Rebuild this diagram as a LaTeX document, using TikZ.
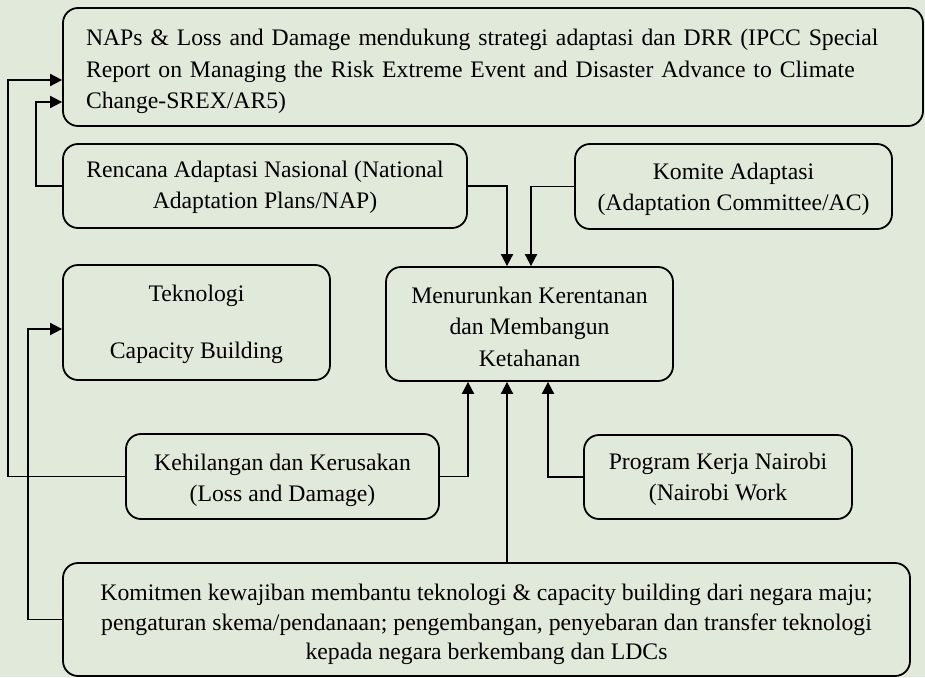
\documentclass[tikz,border=0pt]{standalone}
\usepackage{fontspec}
\setmainfont{Liberation Serif}
\usetikzlibrary{arrows.meta}
\definecolor{bg}{RGB}{225,233,219}
\newcommand\topstrut[1]{\rule{0pt}{#1pt}}
\newcommand\botstrut{\rule[-5.5pt]{0pt}{0pt}}
\begin{document}
\begin{tikzpicture}[x=1pt,y=-1pt,
  box/.style={draw, line width=1.8pt, rounded corners=15pt, align=center, inner sep=0pt,
    font=\fontsize{23.7}{31}\selectfont},
  arr/.style={line width=1.8pt, -{Triangle[length=12pt,width=12pt]}}]
\fill[bg] (0,0) rectangle (925,677);
\useasboundingbox (0,0) rectangle (925,677);

\node[box, align=left, text width=828pt, minimum width=860pt, minimum height=118pt,
      font=\fontsize{23.7}{31.5}\selectfont] (top) at (493,67)
  {\topstrut{25.5}\hspace*{7pt}\makebox[821pt][s]{NAPs \& Loss and Damage mendukung strategi adaptasi dan DRR (IPCC Special}\\
   \hspace*{7pt}\makebox[821pt][s]{Report on Managing the Risk Extreme Event and Disaster Advance to Climate}\\
   \hspace*{7pt}Change-SREX/AR5)\botstrut};

\node[box, minimum width=404pt, minimum height=84pt] (ren) at (265,186)
  {\topstrut{19.5}Rencana Adaptasi Nasional (National\\Adaptation Plans/NAP)\botstrut};
\node[box, minimum width=317pt, minimum height=85pt] (kom) at (733.5,186.5)
  {\topstrut{22.5}Komite Adaptasi\\(Adaptation Committee/AC)\botstrut};
\node[box, minimum width=267pt, minimum height=115pt] (tek) at (196.5,322.5)
  {\topstrut{19.5}Teknologi\\[26pt]Capacity Building\botstrut};
\node[box, minimum width=287pt, minimum height=114pt,
      font=\fontsize{23.7}{31.5}\selectfont] (men) at (529.5,324)
  {\topstrut{27}Menurunkan Kerentanan\\dan Membangun\\Ketahanan\botstrut};
\node[box, minimum width=313pt, minimum height=85pt] (keh) at (282.5,476.5)
  {\topstrut{23.5}Kehilangan dan Kerusakan\\(Loss and Damage)\botstrut};
\node[box, minimum width=268pt, minimum height=84pt] (prog) at (718,477)
  {\topstrut{21.5}Program Kerja Nairobi\\(Nairobi Work\botstrut};
\node[box, minimum width=847pt, minimum height=113pt,
      font=\fontsize{23.7}{29.5}\selectfont] (bot) at (486.5,619.5)
  {\topstrut{27}Komitmen kewajiban membantu teknologi \& capacity building dari negara maju;\\
   pengaturan skema/pendanaan; pengembangan, penyebaran dan transfer teknologi\\
   kepada negara berkembang dan LDCs\botstrut};

\coordinate (c1) at (8,80);
\coordinate (c2) at (36,102);
\coordinate (c3) at (28,329);

\draw[arr] (keh.west) -| (c1) -- (top.west |- c1);
\draw[arr] (ren.west) -| (c2) -- (top.west |- c2);
\draw[arr] (bot.west) -| (c3) -- (tek.west |- c3);
\draw[arr] (ren.east) -| ([xshift=-22.5pt]men.north);
\draw[arr] (kom.west) -| ([xshift=1.5pt]men.north);
\draw[arr] (keh.east) -| ([xshift=-61.5pt]men.south);
\draw[arr] ([xshift=20.5pt]bot.north) -- ([xshift=-22.5pt]men.south);
\draw[arr] (prog.west) -| ([xshift=18.5pt]men.south);
\end{tikzpicture}
\end{document}
